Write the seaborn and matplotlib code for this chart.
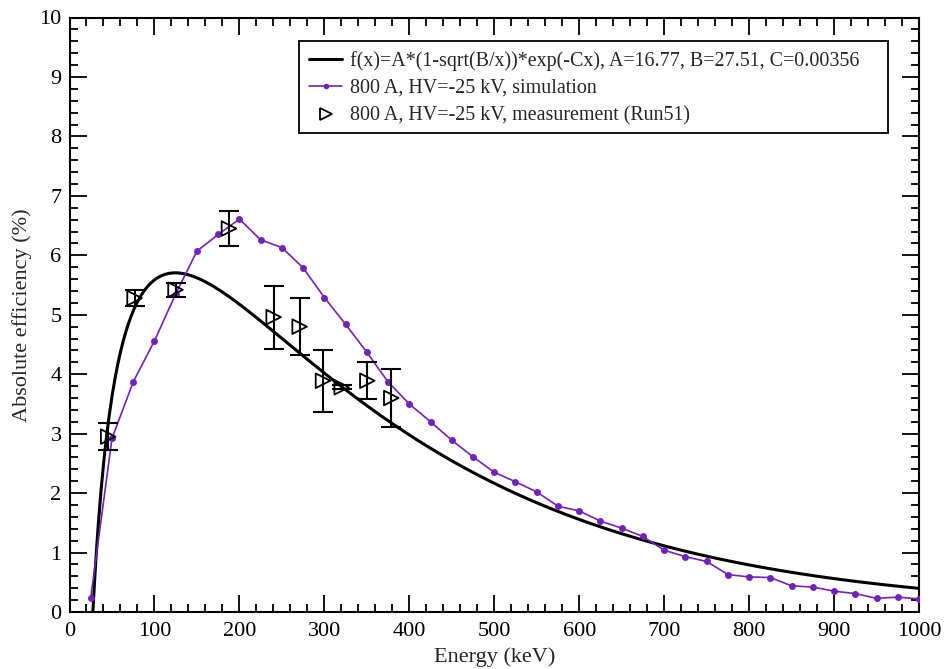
import numpy as np
import pandas as pd
import matplotlib
matplotlib.use("Agg")
import matplotlib.pyplot as plt
import seaborn as sns
from matplotlib.ticker import MultipleLocator
from matplotlib.lines import Line2D
from matplotlib.patches import Rectangle

# ---- data ----
sim_energy = [25, 50, 75, 100, 125, 150, 175, 200, 225, 250, 275, 300, 325, 350,
              375, 400, 425, 450, 475, 500, 525, 550, 575, 600, 625, 650, 675,
              700, 725, 750, 775, 800, 825, 850, 875, 900, 925, 950, 975, 1000]
sim_eff = [0.24, 2.92, 3.87, 4.56, 5.35, 6.07, 6.35, 6.61, 6.26, 6.13, 5.79, 5.29,
           4.84, 4.37, 3.87, 3.50, 3.20, 2.89, 2.61, 2.35, 2.19, 2.02, 1.78, 1.70,
           1.53, 1.41, 1.27, 1.04, 0.93, 0.85, 0.63, 0.59, 0.58, 0.44, 0.42, 0.35,
           0.31, 0.23, 0.25, 0.22]

meas_energy = [45.5, 76.6, 124.8, 187.7, 240.3, 270.9, 298.4, 320.4, 350.6, 378.8]
meas_eff = [2.95, 5.28, 5.42, 6.45, 4.96, 4.80, 3.89, 3.78, 3.89, 3.60]
meas_err = [0.23, 0.13, 0.12, 0.29, 0.53, 0.48, 0.52, 0.03, 0.31, 0.49]

fit_A, fit_B, fit_C = 16.77, 27.51, 0.00356

labels = ["f(x)=A*(1-sqrt(B/x))*exp(-Cx), A=16.77, B=27.51, C=0.00356",
          "800 A, HV=-25 kV, simulation",
          "800 A, HV=-25 kV, measurement (Run51)"]

# ---- style ----
sns.set_theme(style="ticks")
plt.rcParams["font.family"] = ["Liberation Serif", "DejaVu Serif"]

purple = "#7221bc"

W, H = 946, 669
fig = plt.figure(figsize=(W / 100, H / 100), dpi=100)
ax_l, ax_r, ax_t, ax_b = 69.5, 919, 17.5, 612
ax = fig.add_axes([ax_l / W, 1 - ax_b / H, (ax_r - ax_l) / W, (ax_b - ax_t) / H])

# fit curve (from the formula given in the chart's legend)
fit_x = np.linspace(fit_B, 1000, 600)
fit_y = fit_A * (1 - np.sqrt(fit_B / fit_x)) * np.exp(-fit_C * fit_x)
fit_df = pd.DataFrame({"x": fit_x, "y": fit_y})
sns.lineplot(data=fit_df, x="x", y="y", ax=ax, color="black", linewidth=2.2,
             zorder=3, sort=False)

sim_df = pd.DataFrame({"E": sim_energy, "eff": sim_eff})
sns.lineplot(data=sim_df, x="E", y="eff", ax=ax, color=purple, linewidth=1.2,
             marker="o", markersize=5, markeredgewidth=0, zorder=4)

ax.errorbar(meas_energy, meas_eff, yerr=meas_err, fmt="none", ecolor="black",
            elinewidth=1.5, capsize=7, capthick=1.5, zorder=5)
meas_df = pd.DataFrame({"E": meas_energy, "eff": meas_eff})
sns.scatterplot(data=meas_df, x="E", y="eff", ax=ax, marker=">", s=110,
                facecolors="none", edgecolor="black", linewidth=1.3, zorder=6)

ax.set_xlim(0, 1000)
ax.set_ylim(0, 10)
ax.xaxis.set_major_locator(MultipleLocator(100))
ax.xaxis.set_minor_locator(MultipleLocator(20))
ax.yaxis.set_major_locator(MultipleLocator(1))
ax.yaxis.set_minor_locator(MultipleLocator(0.2))
ax.tick_params(which="both", direction="in", top=True, right=True,
               labelsize=16, colors="black")
ax.tick_params(axis="x", which="major", pad=7.5)
ax.tick_params(axis="y", which="major", pad=5.8)
ax.tick_params(which="major", length=12, width=1.3)
ax.tick_params(which="minor", length=6, width=1.3)
for s in ax.spines.values():
    s.set_linewidth(1.5)
    s.set_color("black")

ax.set_xlabel("Energy (keV)", fontsize=16, labelpad=4)
ax.set_ylabel("Absolute efficiency (%)", fontsize=16, labelpad=5)

# legend: entries without frame, frame drawn as a separate box
handles = [
    Line2D([], [], color="black", linewidth=2.2),
    Line2D([], [], color=purple, linewidth=1.2, marker="o", markersize=4,
           markeredgewidth=0, markevery=[0, 1]),
    Line2D([], [], color="black", linestyle="none", marker=">", markersize=8,
           markerfacecolor="none", markeredgewidth=1.3),
]

def px_to_axes(xp, yp):
    return (xp - ax_l) / (ax_r - ax_l), (ax_b - yp) / (ax_b - ax_t)

box_l, box_t, box_r, box_bt = 299, 40.7, 888, 132.7
anchor = px_to_axes(box_l, box_t)
leg = ax.legend(handles, labels, loc="upper left", bbox_to_anchor=anchor,
                fontsize=14.4, frameon=False, handlelength=1.65,
                labelspacing=0.42, borderpad=0.5, handletextpad=0.4,
                borderaxespad=0)
leg.set_zorder(10)
x0, y0 = px_to_axes(box_l, box_bt)
x1, y1 = px_to_axes(box_r, box_t)
ax.add_patch(Rectangle((x0, y0), x1 - x0, y1 - y0, transform=ax.transAxes,
                       facecolor="white", edgecolor="black", linewidth=1.3,
                       zorder=9))

fig.savefig("out.png", dpi=100)
